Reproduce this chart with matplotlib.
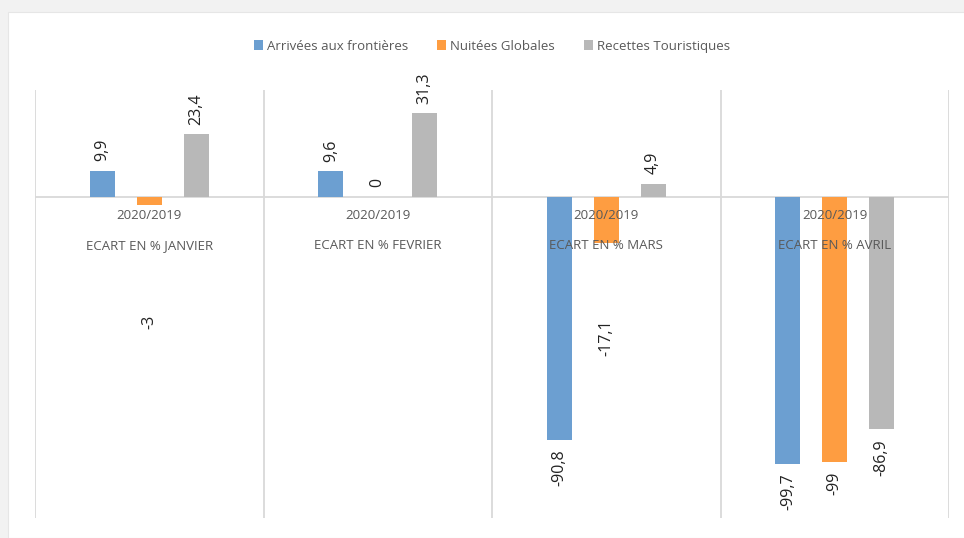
import numpy as np
import matplotlib.pyplot as plt
from matplotlib.patches import Rectangle

plt.rcParams['font.family'] = ['Open Sans', 'DejaVu Sans']

months = ['ECART EN % JANVIER', 'ECART EN % FEVRIER', 'ECART EN % MARS', 'ECART EN % AVRIL']
period = '2020/2019'
series = ['Arrivées aux frontières', 'Nuitées Globales', 'Recettes Touristiques']
arrivees = [9.9, 9.6, -90.8, -99.7]
nuitees = [-3, 0, -17.1, -99]
recettes = [23.4, 31.3, 4.9, -86.9]
labels = [['9,9', '9,6', '-90,8', '-99,7'],
          ['-3', '0', '-17,1', '-99'],
          ['23,4', '31,3', '4,9', '-86,9']]
# extra label shift (points) where the original puts the label further away
extra = [[0, 0, 0, 0],
         [72, 0, 48, 0],
         [0, 0, 0, 0]]

colors = ['#6c9fd1', '#fe9d41', '#b8b8b8']

fig = plt.figure(figsize=(9.64, 5.38), dpi=100)
fig.patch.set_facecolor('#f2f2f2')
fig.add_artist(Rectangle((8 / 964, 0), 1, 1 - 12 / 538, transform=fig.transFigure,
                         facecolor='white', edgecolor='#e6e6e6', lw=0.8, zorder=0))

ax = fig.add_axes([35 / 964, 20 / 538, 914 / 964, 428 / 538])
ax.set_facecolor('none')

x = np.arange(len(months))
w = 0.11
off = 0.205
data = [arrivees, nuitees, recettes]
for i, vals in enumerate(data):
    xs = x + (i - 1) * off
    ax.bar(xs, vals, width=w, color=colors[i], label=series[i], zorder=2)
    for j, v in enumerate(vals):
        if v >= 0:
            ax.annotate(labels[i][j], (xs[j], v), xytext=(0, 7 + extra[i][j]),
                        textcoords='offset points', rotation=90, ha='center', va='bottom',
                        fontsize=11.5, color='#222222')
        else:
            ax.annotate(labels[i][j], (xs[j], v), xytext=(0, -7 - extra[i][j]),
                        textcoords='offset points', rotation=90, ha='center', va='top',
                        fontsize=11.5, color='#222222')

ax.set_xlim(-0.5, len(months) - 0.5)
ax.set_ylim(-120, 40)
ax.axhline(0, color='#d9d9d9', lw=1.3, zorder=1)
for b in np.arange(len(months) + 1) - 0.5:
    ax.axvline(b, color='#d9d9d9', lw=1.3, zorder=1)

for j, m in enumerate(months):
    ax.annotate(period, (x[j], 0), xytext=(0, -13), textcoords='offset points',
                ha='center', va='center', fontsize=9.5, color='#595959', zorder=5)
    ax.annotate(m, (x[j], 0), xytext=(0, -35), textcoords='offset points',
                ha='center', va='center', fontsize=9.5, color='#595959', zorder=5)

ax.set_xticks([])
ax.set_yticks([])
for s in ax.spines.values():
    s.set_visible(False)

ax.legend(loc='center', bbox_to_anchor=(0.5, 1 + 44 / 428), ncol=3, frameon=False,
          fontsize=9.5, handlelength=0.7, handleheight=0.7, handletextpad=0.3,
          columnspacing=2.2, labelcolor='#595959')

fig.savefig('out.png', dpi=100, facecolor=fig.get_facecolor())
